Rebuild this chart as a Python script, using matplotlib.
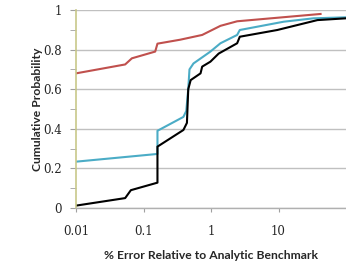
import matplotlib
matplotlib.use("Agg")
import matplotlib.pyplot as plt
from matplotlib.ticker import FixedLocator, NullLocator

# error (%) vs cumulative probability
red_x = [0.01, 0.0535, 0.0673, 0.149, 0.161, 0.35, 0.74, 1.38, 2.44, 42]
red_y = [0.68, 0.725, 0.756, 0.79, 0.83, 0.85, 0.874, 0.92, 0.943, 0.98]

cyan_x = [0.01, 0.161, 0.161, 0.39, 0.43, 0.46, 0.48, 0.55, 0.98, 1.38, 2.44, 2.67, 12, 33, 100]
cyan_y = [0.234, 0.273, 0.39, 0.46, 0.49, 0.60, 0.70, 0.73, 0.79, 0.832, 0.874, 0.899, 0.941, 0.958, 0.963]

black_x = [0.01, 0.0535, 0.065, 0.161, 0.161, 0.39, 0.44, 0.46, 0.50, 0.70, 0.74, 0.98, 1.3, 2.44, 2.67, 9.6, 37.7, 100]
black_y = [0.012, 0.05, 0.09, 0.128, 0.31, 0.394, 0.43, 0.6, 0.646, 0.68, 0.714, 0.739, 0.78, 0.832, 0.865, 0.899, 0.949, 0.958]

xticks = [0.01, 0.1, 1, 10]
xtick_labels = ["0.01", "0.1", "1", "10"]
yticks = [0, 0.2, 0.4, 0.6, 0.8, 1]
ytick_labels = ["0", "0.2", "0.4", "0.6", "0.8", "1"]

fig = plt.figure(figsize=(3.46, 2.67), dpi=100)
ax = fig.add_axes([76/346, 59/267, 270/346, 198/267])

ax.plot(red_x, red_y, color="#c0504d", linewidth=1.5)
ax.plot(cyan_x, cyan_y, color="#4bacc6", linewidth=1.5)
ax.plot(black_x, black_y, color="black", linewidth=1.5)

ax.set_xscale("log")
ax.set_xlim(0.01, 100)
ax.set_ylim(0, 1)

ax.xaxis.set_major_locator(FixedLocator(xticks))
ax.xaxis.set_minor_locator(NullLocator())
ax.set_xticklabels(xtick_labels)
ax.set_yticks(yticks)
ax.set_yticklabels(ytick_labels)
ax.set_yticks([0.1, 0.3, 0.5, 0.7, 0.9], minor=True)

for s in ["top", "right"]:
    ax.spines[s].set_visible(False)
ax.spines["left"].set_color("#c8c88a")
ax.spines["left"].set_linewidth(1.2)
ax.spines["bottom"].set_color("#b0b0b0")
ax.spines["bottom"].set_linewidth(1.0)

ax.grid(axis="y", color="#c0c0c0", linewidth=1.0)
ax.set_axisbelow(True)

ax.tick_params(axis="both", which="both", color="#a0a0a0", labelcolor="#262626")
ax.tick_params(axis="y", which="major", length=4, pad=6)
ax.tick_params(axis="y", which="minor", length=4)
ax.tick_params(axis="x", which="major", length=3, pad=9)
for lab in ax.get_xticklabels() + ax.get_yticklabels():
    lab.set_fontfamily("DejaVu Serif")
    lab.set_fontsize(8.5)

ax.set_xlabel("% Error Relative to Analytic Benchmark", fontfamily="Lato",
              fontweight="bold", fontsize=8.7, color="#262626", labelpad=9)
ax.set_ylabel("Cumulative Probability", fontfamily="Lato",
              fontweight="bold", fontsize=8.7, color="#262626", labelpad=0)

fig.savefig("out.png", dpi=100)
